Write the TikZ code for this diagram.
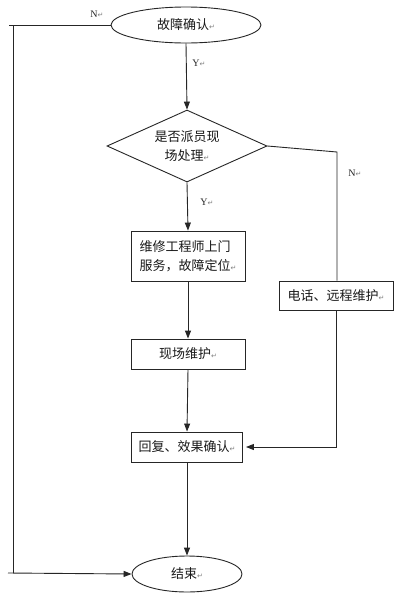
\documentclass[tikz,border=0pt]{standalone}
\usepackage{fontspec}
\setmainfont{Liberation Serif}
\newfontfamily\cjk{Noto Sans CJK SC}
\newfontfamily\symfont{DejaVu Sans}
\usetikzlibrary{shapes.geometric,arrows.meta}
\newcommand{\parmark}{{\symfont\fontsize{7}{7}\selectfont\color{gray}↵}}
\begin{document}
\begin{tikzpicture}[x=1pt,y=-1pt,
  line width=0.9pt,draw=black!85,
  cjktext/.style={font=\cjk\fontsize{13}{19}\selectfont,text=black!90},
  ell/.style={ellipse,draw,cjktext,inner sep=0pt},
  dia/.style={diamond,draw,cjktext,aspect=2.2,inner sep=0pt,minimum width=160pt,minimum height=72pt,align=center},
  boxn/.style={rectangle,draw,cjktext,inner sep=0pt},
  lab/.style={font=\fontsize{10}{10}\selectfont,text=black!85},
  arr/.style={-{Triangle[length=8pt,width=6pt]}}]
\useasboundingbox[fill=white,draw=none] (0,0) rectangle (402,595);
\node[ell,minimum width=150pt,minimum height=36pt] (q) at (186,25) {故障确认\parmark};
\node[dia] (d) at (187,146) {是否派员现\\场处理\parmark};
\node[boxn,minimum width=114pt,minimum height=50pt,align=left] (m) at (188,256) {维修工程师上门\\服务，故障定位\parmark};
\node[boxn,minimum width=114pt,minimum height=30pt] (s) at (188,354) {现场维护\parmark};
\node[boxn,minimum width=111pt,minimum height=30pt] (r) at (187,447) {回复、效果确认\parmark};
\node[boxn,minimum width=114pt,minimum height=29pt] (t) at (336,295.5) {电话、远程维护\parmark};
\node[ell,minimum width=110pt,minimum height=36pt] (e) at (187,574) {结束\parmark};
\node[lab] (y1) at (199,63) {Y\parmark};
\node[lab] (y2) at (207,202) {Y\parmark};
\node[lab] (n1) at (97,14) {N\parmark};
\node[lab] (n2) at (355,173) {N\parmark};
\coordinate (la0) at (9,25);
\coordinate (la) at (13,25);
\coordinate (lb) at (13,573);
\coordinate (lb0) at (8,573);
\coordinate (ra) at (337,152);
\draw[arr] (q.south) -- (d.north);
\draw[arr] (d.south) -- (m.north);
\draw[arr] (m.south) -- (s.north);
\draw[arr] (s.south) -- (r.north);
\draw[arr] (r.south) -- (e.north);
\draw (q.west) -- (la0);
\draw (la) -- (lb);
\draw[arr] (lb0) -- (e.west);
\draw (d.east) -- (ra) -- (ra |- t.north);
\draw[arr,shorten >=3pt] (t.south) |- (r.east);
\end{tikzpicture}
\end{document}
